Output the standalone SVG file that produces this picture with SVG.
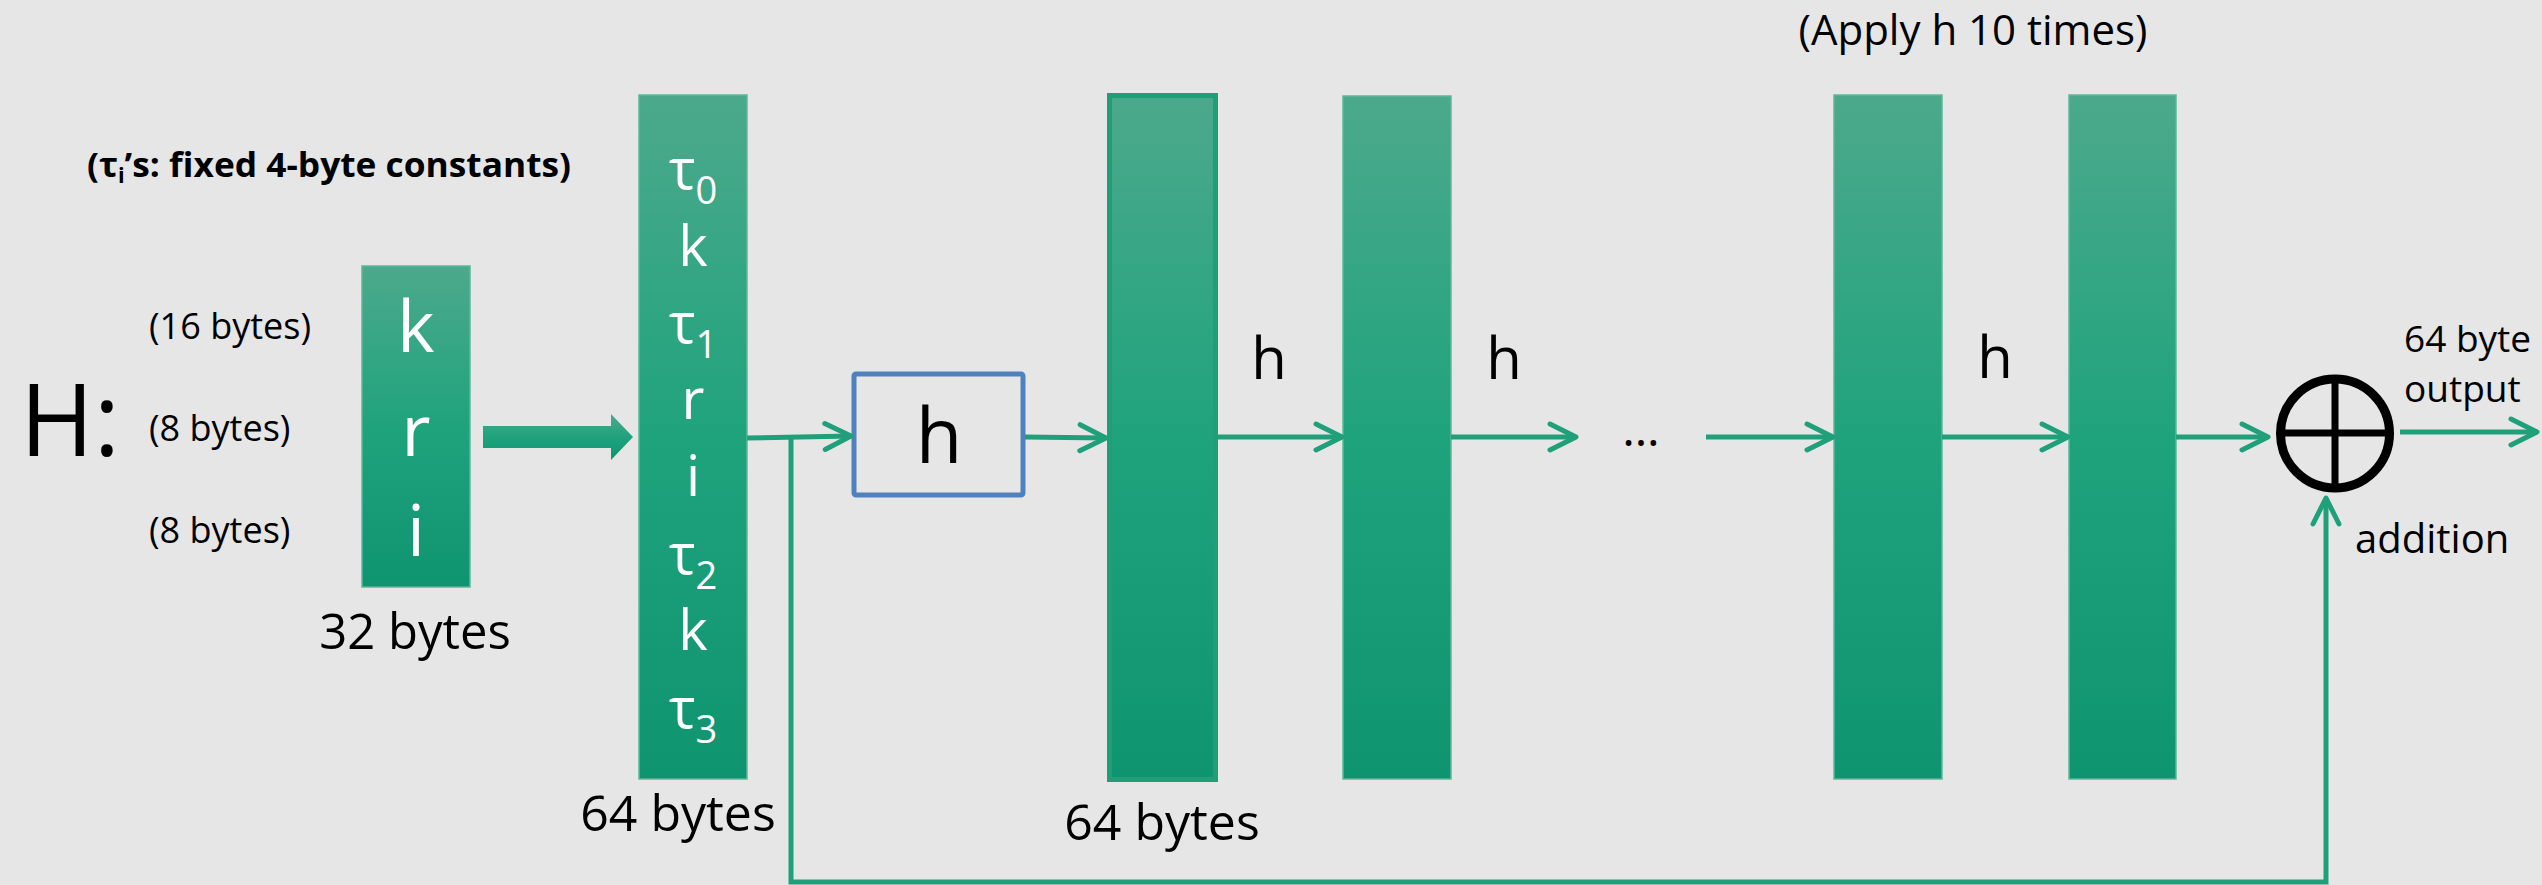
<svg xmlns="http://www.w3.org/2000/svg" width="2542" height="885" viewBox="0 0 2542 885">
  <defs>
    <linearGradient id="g" x1="0" y1="0" x2="0" y2="1">
      <stop offset="0" stop-color="#4ca98b"/>
      <stop offset="0.5" stop-color="#1fa37d"/>
      <stop offset="1" stop-color="#0f9470"/>
    </linearGradient>
    <marker id="ah" viewBox="0 0 32 32" markerWidth="32" markerHeight="32" refX="29" refY="16" markerUnits="userSpaceOnUse" orient="auto">
      <path d="M3,3 L29,16 L3,29" fill="none" stroke="#20a07a" stroke-width="5" stroke-linecap="round" stroke-linejoin="round"/>
    </marker>
    <style>
      .t { font-family: "Open Sans", "Liberation Sans", sans-serif; fill: #000; }
      .w { font-family: "Open Sans", "Liberation Sans", sans-serif; fill: #fff; text-anchor: middle; }
      .bar { fill: url(#g); stroke: #5cb899; stroke-width: 1.5; }
      .conn { fill: none; stroke: #20a07a; stroke-width: 5; marker-end: url(#ah); }
    </style>
  </defs>
  <rect x="0" y="0" width="2542" height="885" fill="#e6e6e6"/>

  <g id="title">
    <text class="t" x="1973" y="45" font-size="42" text-anchor="middle">(Apply h 10 times)</text>
  </g>
  <g id="note">
    <text class="t" x="87" y="177" font-size="34" font-weight="bold" textLength="484" lengthAdjust="spacingAndGlyphs">(τ<tspan font-size="21" dy="6">i</tspan><tspan dy="-6">’s: fixed 4-byte constants)</tspan></text>
  </g>
  <g id="H-label">
    <text class="t" x="20" y="456" font-size="100">H:</text>
    <text class="t" x="149" y="339" font-size="36">(16 bytes)</text>
    <text class="t" x="149" y="441" font-size="36">(8 bytes)</text>
    <text class="t" x="149" y="543" font-size="36">(8 bytes)</text>
  </g>

  <g id="input-block">
    <rect class="bar" x="362" y="266" width="108" height="321"/>
    <text class="w" font-size="71"><tspan x="416" y="352">k</tspan><tspan x="416" y="456">r</tspan><tspan x="416" y="556">i</tspan></text>
    <text class="t" x="415" y="649" font-size="49" text-anchor="middle">32 bytes</text>
  </g>

  <g id="expand-arrow">
    <path d="M483,426 H611 V414 L633,437 L611,460 V448 H483 Z" fill="url(#g)"/>
  </g>

  <g id="expanded-block">
    <rect class="bar" x="639" y="95" width="108" height="684"/>
    <text class="w" font-size="56"><tspan x="693" y="189">τ</tspan><tspan font-size="38" dy="15">0</tspan><tspan x="693" y="266">k</tspan><tspan x="693" y="343">τ</tspan><tspan font-size="38" dy="15">1</tspan><tspan x="693" y="419">r</tspan><tspan x="693" y="496">i</tspan><tspan x="693" y="574">τ</tspan><tspan font-size="38" dy="15">2</tspan><tspan x="693" y="650">k</tspan><tspan x="693" y="728">τ</tspan><tspan font-size="38" dy="15">3</tspan></text>
    <text class="t" x="678" y="831" font-size="50" text-anchor="middle">64 bytes</text>
  </g>

  <g id="h-box">
    <rect x="854" y="374" width="169" height="121" rx="2" fill="none" stroke="#4f81bd" stroke-width="5"/>
    <text class="t" x="939" y="463" font-size="76" text-anchor="middle">h</text>
  </g>

  <g id="state-1">
    <rect x="1109.5" y="95.5" width="106" height="684" fill="url(#g)" stroke="#1f9e78" stroke-width="5"/>
    <text class="t" x="1162" y="840" font-size="50" text-anchor="middle">64 bytes</text>
  </g>
  <g id="state-2">
    <rect class="bar" x="1343" y="96" width="108" height="683"/>
  </g>
  <g id="state-9">
    <rect class="bar" x="1834" y="95" width="108" height="684"/>
  </g>
  <g id="state-10">
    <rect class="bar" x="2069" y="95" width="107" height="684"/>
  </g>

  <g id="labels">
    <text class="t" x="1269" y="379" font-size="58" text-anchor="middle">h</text>
    <text class="t" x="1504" y="379" font-size="58" text-anchor="middle">h</text>
    <text class="t" x="1995" y="378" font-size="58" text-anchor="middle">h</text>
    <text class="t" x="1641" y="446" font-size="48" text-anchor="middle">…</text>
  </g>

  <g id="addition">
    <circle cx="2335" cy="433.5" r="54.5" fill="none" stroke="#000" stroke-width="9"/>
    <line x1="2335" y1="379" x2="2335" y2="488" stroke="#000" stroke-width="7"/>
    <line x1="2281" y1="433" x2="2389" y2="433" stroke="#000" stroke-width="7"/>
    <text class="t" x="2355" y="553" font-size="40">addition</text>
  </g>
  <g id="output-label">
    <text class="t" x="2404" y="352" font-size="37">64 byte</text>
    <text class="t" x="2404" y="402" font-size="37">output</text>
  </g>

  <g id="connectors">
    <path class="conn" d="M747,438 L851,436"/>
    <path class="conn" d="M1025,437 L1106,438"/>
    <path class="conn" d="M1218,437 L1342,437"/>
    <path class="conn" d="M1451,437 L1576,437"/>
    <path class="conn" d="M1706,437 L1833,437"/>
    <path class="conn" d="M1942,437 L2068,437"/>
    <path class="conn" d="M2176,437 L2268,437"/>
    <path class="conn" d="M2400,432 L2537,432"/>
    <path class="conn" d="M791,439 V882 H2326 V498" stroke-linejoin="miter"/>
  </g>
</svg>
